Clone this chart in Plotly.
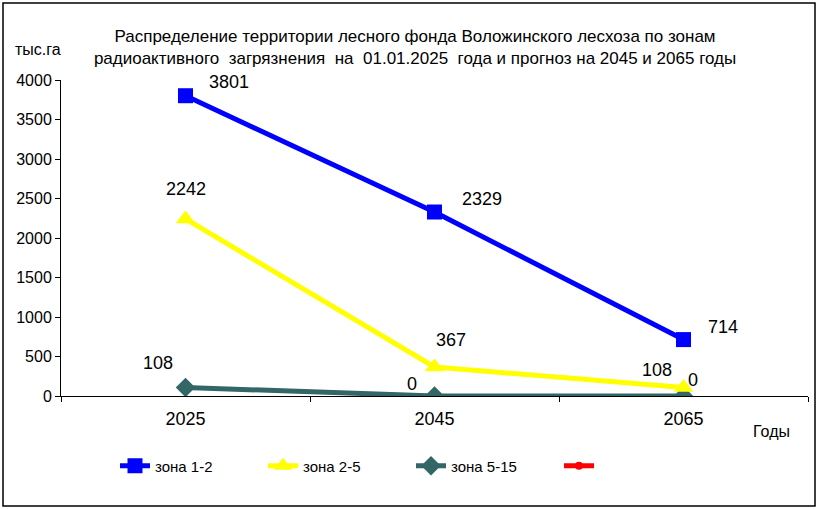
import plotly.graph_objects as go

# data
years = ["2025", "2045", "2065"]
zone_1_2 = [3801, 2329, 714]
zone_2_5 = [2242, 367, 108]
zone_5_15 = [108, 0, 0]
zone_empty = [None, None, None]

series_names = ["зона 1-2", "зона 2-5", "зона 5-15", ""]
y_ticks = [0, 500, 1000, 1500, 2000, 2500, 3000, 3500, 4000]

FONT = "Arial, Liberation Sans, sans-serif"

fig = go.Figure()

styles = [
    dict(color="#0000FF", symbol="square", size=15),
    dict(color="#FFFF00", symbol="triangle-up", size=17),
    dict(color="#336666", symbol="diamond", size=15),
    dict(color="#FF0000", symbol="circle", size=8),
]
all_series = [zone_1_2, zone_2_5, zone_5_15, zone_empty]

# draw the lower series first so blue stays on top
for idx in [3, 2, 1, 0]:
    st = styles[idx]
    fig.add_trace(go.Scatter(
        x=years, y=all_series[idx], name=series_names[idx],
        mode="lines+markers",
        line=dict(color=st["color"], width=5),
        marker=dict(color=st["color"], symbol=st["symbol"], size=st["size"]),
        legendrank=idx + 1,
    ))

# data labels (pixel offsets from each point); x is the category index
label_offsets = [
    [(43, 14), (47, 13), (39, 13)],
    [(0, 30), (16, 27), (-27, 17)],
    [(-28, 24), (-23, 12), (9, 16)],
]
for series, offs in zip([zone_1_2, zone_2_5, zone_5_15], label_offsets):
    for i, (y, (dx, dy)) in enumerate(zip(series, offs)):
        fig.add_annotation(
            x=i, y=y, text=str(y), showarrow=False,
            xanchor="center", yanchor="middle",
            xshift=dx, yshift=dy, font=dict(size=18, color="black", family=FONT),
        )

# axis titles
fig.add_annotation(xref="paper", yref="paper", x=(38 - 61) / 747, y=(396 - 50) / 316,
                   xanchor="center", yanchor="middle",
                   text="тыс.га", showarrow=False, font=dict(size=16, family=FONT, color="black"))
fig.add_annotation(xref="paper", yref="paper", x=(771 - 61) / 747, y=(396 - 431) / 316,
                   xanchor="center", yanchor="middle",
                   text="Годы", showarrow=False, font=dict(size=16, family=FONT, color="black"))

# outer frame
fig.add_shape(type="rect", xref="paper", yref="paper",
              x0=(3 - 61) / 747, x1=(815 - 61) / 747,
              y0=(396 - 506) / 316, y1=(396 - 3) / 316,
              line=dict(color="black", width=1.5), layer="below")

fig.update_layout(
    width=817, height=509,
    margin=dict(l=61, r=9, t=80, b=113),
    paper_bgcolor="white", plot_bgcolor="white",
    font=dict(family=FONT, color="black"),
    title=dict(
        text="Распределение территории лесного фонда Воложинского лесхоза по зонам<br>"
             "радиоактивного\u00a0 загрязнения\u00a0 на\u00a0 01.01.2025\u00a0 года и прогноз на 2045 и 2065 годы",
        x=0.508, xanchor="center", y=1 - 42 / 509, yanchor="middle",
        font=dict(size=17, family=FONT, color="black"),
    ),
    showlegend=True,
    legend=dict(
        orientation="h", x=(115 - 61) / 747, xanchor="left",
        y=(396 - 466) / 316, yanchor="middle",
        entrywidth=103, entrywidthmode="pixels",
        font=dict(size=15, family=FONT, color="black"),
        traceorder="normal", bgcolor="rgba(0,0,0,0)",
    ),
)

fig.update_xaxes(
    type="category", range=[-0.5, 2.5],
    showline=True, linecolor="black", linewidth=1,
    ticks="outside", tickson="boundaries", ticklen=5, tickcolor="black",
    ticklabelstandoff=6,
    showgrid=False, zeroline=False,
    tickfont=dict(size=18, family=FONT, color="black"),
)
fig.update_yaxes(
    range=[0, 4000], tickvals=y_ticks,
    showline=True, linecolor="black", linewidth=1,
    ticks="outside", ticklen=5, tickcolor="black",
    showgrid=False, zeroline=False,
    tickfont=dict(size=16, family=FONT, color="black"),
)

fig.write_html("out.html", config={"displayModeBar": False},
               post_script="document.body.style.margin = '0';")
